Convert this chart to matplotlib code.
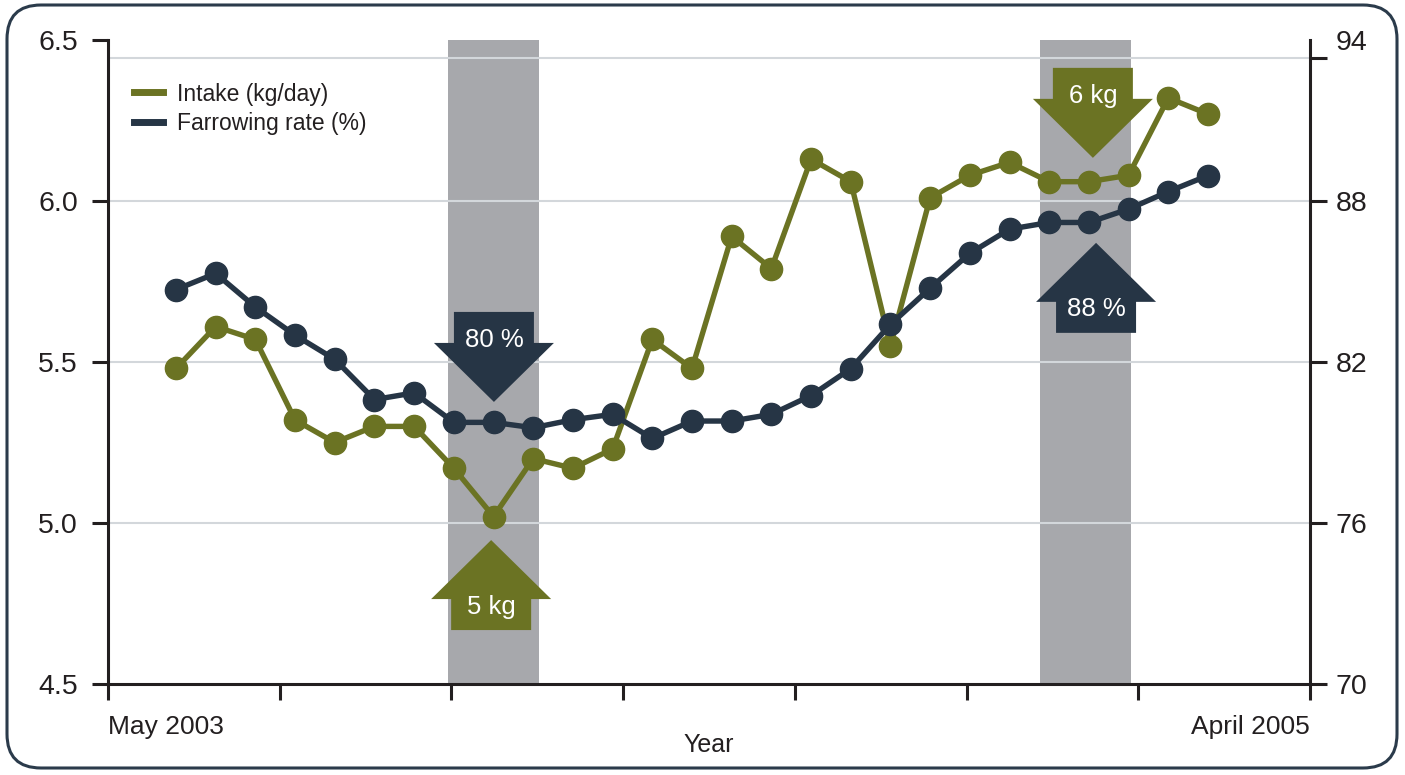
import matplotlib
matplotlib.use("Agg")
import matplotlib.pyplot as plt
import matplotlib.transforms as mtransforms
from matplotlib.patches import Polygon, FancyBboxPatch
from matplotlib.lines import Line2D
import numpy as np

# ---------------- data ----------------
months = list(range(27))  # May 2003 ... April 2005 (monthly points)
intake = [5.48, 5.61, 5.57, 5.32, 5.25, 5.30, 5.30, 5.17, 5.02, 5.20, 5.17, 5.23,
          5.57, 5.48, 5.89, 5.79, 6.13, 6.06, 5.55, 6.01, 6.08, 6.12, 6.06, 6.06,
          6.08, 6.32, 6.27]
farrowing = [84.7, 85.3, 84.05, 83.0, 82.1, 80.6, 80.85, 79.75, 79.75, 79.55, 79.85,
             80.05, 79.15, 79.8, 79.8, 80.05, 80.75, 81.75, 83.4, 84.75, 86.05, 86.95,
             87.2, 87.2, 87.7, 88.35, 88.95]
left_ticks = [4.5, 5.0, 5.5, 6.0, 6.5]
left_ticklabels = ["4.5", "5.0", "5.5", "6.0", "6.5"]
right_ticks = [70, 76, 82, 88]
right_ticklabels = ["70", "76", "82", "88"]
right_top_value = 94
x_end_labels = ["May 2003", "April 2005"]
band_ranges = [(6.85, 9.15), (21.77, 24.06)]
callout_labels = ["80 %", "5 kg", "6 kg", "88 %"]
callout_x = [8.01, 7.94, 23.10, 23.18]
callout_tip = [5.376, 4.947, 6.134, 5.870]   # on the intake (left) scale
callout_dir = ["down", "up", "down", "up"]
callout_series = ["farrowing", "intake", "intake", "farrowing"]
series_labels = ["Intake (kg/day)", "Farrowing rate (%)"]

# ---------------- style ----------------
GREEN = "#6b7323"
NAVY = "#263545"
BAND = "#a7a8ac"
GRID = "#d3d7db"
INK = "#231f20"
FONT = ["Liberation Sans", "DejaVu Sans"]

W, H = 1405, 775
fig = plt.figure(figsize=(W / 100, H / 100), dpi=100)
fig.patch.set_facecolor("white")

# rounded frame
frame = FancyBboxPatch((7, H - 768), 1390, 763,
                       boxstyle="round,pad=0,rounding_size=34",
                       transform=mtransforms.IdentityTransform(),
                       facecolor="none", edgecolor="#2b3b4b", linewidth=2.2)
fig.add_artist(frame)

ax = fig.add_axes([108 / W, 1 - 684 / H, 1202 / W, 644 / H])
ax.set_xlim(-1.713, 28.57)
ax.set_ylim(4.5, 6.5)
ax2 = ax.twinx()
ax2.set_ylim(70, 94)

# top tick / gridline of the original sits slightly below 94
top_tick_right = 93.33
top_grid_left = 4.5 + (top_tick_right - 70) / 24 * 2.0

# bands
for a, b in band_ranges:
    ax.axvspan(a, b, color=BAND, lw=0, zorder=0)

# grid lines
for g in left_ticks[1:-1] + [top_grid_left]:
    ax.axhline(g, color=GRID, lw=1.5, zorder=0.5)

# series
ax.plot(months, intake, color=GREEN, lw=3.9, marker="o", ms=16, zorder=3)
ax2.plot(months, farrowing, color=NAVY, lw=3.9, marker="o", ms=16, zorder=3)

# spines / ticks
for s in ["top", "right"]:
    ax.spines[s].set_visible(False)
for s in ["top", "left", "bottom"]:
    ax2.spines[s].set_visible(False)
for sp in [ax.spines["left"], ax.spines["bottom"], ax2.spines["right"]]:
    sp.set_linewidth(2.2)
    sp.set_color(INK)

xt = np.linspace(ax.get_xlim()[0], ax.get_xlim()[1], 8)
ax.set_xticks(xt)
xl = [""] * len(xt)
xl[0], xl[-1] = x_end_labels
ax.set_xticklabels(xl, fontsize=19, color=INK, family=FONT)
tl = ax.get_xticklabels()
tl[0].set_horizontalalignment("left")
tl[-1].set_horizontalalignment("right")
ax.tick_params(axis="x", length=11.5, width=2.2, color=INK, pad=10.5)

ax.set_yticks(left_ticks)
ax.set_yticklabels(left_ticklabels, fontsize=20.5, color=INK, family=FONT)
ax.tick_params(axis="y", length=11.5, width=2.2, color=INK, pad=10)

ax2.set_yticks(right_ticks + [top_tick_right])
ax2.set_yticklabels(right_ticklabels + [""], fontsize=20.5, color=INK, family=FONT)
ax2.tick_params(axis="y", which="major", length=12.5, width=2.2, color=INK, pad=6)
ax2.set_yticks([right_top_value], minor=True)
ax2.set_yticklabels([str(right_top_value)], minor=True, fontsize=20.5, color=INK, family=FONT)
ax2.tick_params(axis="y", which="minor", length=0, pad=18.5)

fig.text(709 / W, 1 - 745 / H, "Year", ha="center", va="center", fontsize=18,
         color=INK, family=FONT)

# legend
handles = [Line2D([], [], color=GREEN, lw=5), Line2D([], [], color=NAVY, lw=5)]
leg = ax.legend(handles, series_labels, loc="upper left", bbox_to_anchor=(0.022, 0.934),
                frameon=False, borderaxespad=0, borderpad=0, handlelength=1.25,
                handletextpad=0.6, labelspacing=0.3,
                prop={"family": FONT, "size": 16.5})
for t in leg.get_texts():
    t.set_color(INK)

# call-out block arrows (shape in pixels relative to the tip)
HEAD_L, HEAD_W, BODY_W, BODY_L = 59, 60, 40, 31
for lab, cx, tip, d, ser in zip(callout_labels, callout_x, callout_tip, callout_dir,
                                callout_series):
    col = GREEN if ser == "intake" else NAVY
    s = 1 if d == "down" else -1
    verts = np.array([(0, 0), (HEAD_W, HEAD_L), (BODY_W, HEAD_L), (BODY_W, HEAD_L + BODY_L),
                      (-BODY_W, HEAD_L + BODY_L), (-BODY_W, HEAD_L), (-HEAD_W, HEAD_L)],
                     dtype=float)
    verts[:, 1] *= s
    tr = mtransforms.Affine2D().scale(1 / 100) + fig.dpi_scale_trans + \
        mtransforms.ScaledTranslation(cx, tip, ax.transData)
    poly = Polygon(verts, closed=True, facecolor=col, edgecolor="none",
                   transform=tr, zorder=6, clip_on=False)
    ax2.add_patch(poly)
    ttr = mtransforms.offset_copy(ax.transData, fig=fig, x=0, y=s * 64, units="dots")
    ax2.text(cx, tip, lab, transform=ttr, ha="center", va="center_baseline",
             color="white", fontsize=18.5, family=FONT, zorder=7)

fig.savefig("out.png", dpi=100)
